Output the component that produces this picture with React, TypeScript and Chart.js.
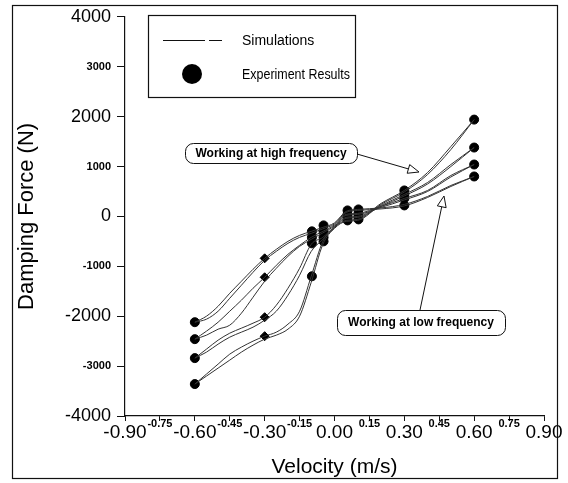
import React, { useEffect, useRef } from "react";
import { Chart, registerables } from "chart.js";

Chart.register(...registerables);

const FONT = '"Liberation Sans", Arial, Helvetica, sans-serif';

// Velocity grid of the simulation curves (m/s)
const simX = [-0.6, -0.55, -0.5, -0.45, -0.4, -0.35, -0.3, -0.25, -0.2, -0.15, -0.1, -0.05, 0, 0.05, 0.1, 0.2, 0.3, 0.4, 0.5, 0.6];
// Simulated damping force (N), two branches per working condition
const sim1a = [-2120, -2000, -1800, -1540, -1300, -1060, -840, -660, -500, -380, -300, -220, -130, 100, 140, 170, 240, 400, 620, 800];
const sim1b = [-2120, -2060, -1900, -1640, -1380, -1120, -880, -700, -540, -420, -340, -250, -150, 80, 120, 150, 210, 380, 600, 800];
const sim2a = [-2460, -2300, -2120, -1900, -1680, -1440, -1220, -980, -760, -580, -420, -300, -170, 40, 60, 200, 360, 520, 820, 1040];
const sim2b = [-2460, -2380, -2260, -2180, -1940, -1620, -1300, -1040, -800, -600, -460, -330, -190, 20, 40, 180, 330, 500, 790, 1040];
const sim3a = [-2840, -2660, -2480, -2340, -2240, -2140, -2020, -1780, -1440, -1040, -560, -420, -200, -20, 0, 220, 440, 680, 1040, 1380];
const sim3b = [-2840, -2720, -2560, -2420, -2320, -2220, -2080, -1900, -1580, -1180, -700, -460, -220, -40, -20, 200, 410, 650, 1000, 1380];
const sim4a = [-3360, -3160, -2960, -2760, -2620, -2500, -2400, -2320, -2160, -1900, -1200, -500, -220, -80, -60, 260, 520, 880, 1400, 1940];
const sim4b = [-3360, -3200, -3040, -2880, -2720, -2580, -2460, -2380, -2260, -2000, -1320, -560, -240, -100, -80, 240, 490, 840, 1340, 1940];

// Experiment results
const expX = [-0.6, -0.3, -0.097, -0.047, 0.056, 0.103, 0.3, 0.6];
const exp1 = [-2120, -840, -300, -180, 120, 140, 220, 800];
const exp2 = [-2460, -1220, -420, -300, 40, 60, 360, 1040];
const exp3 = [-2840, -2020, -540, -420, -20, 0, 440, 1380];
const exp4 = [-3360, -2400, -1200, -500, -80, -60, 520, 1940];

const legendLabels = ["Simulations", "Experiment Results"];
const noteHigh = "Working at high frequency";
const noteLow = "Working at low frequency";
const xTitle = "Velocity (m/s)";
const yTitle = "Damping Force (N)";

const toPts = (xs: number[], ys: number[]) => xs.map((x, i) => ({ x, y: ys[i] }));

function roundRect(ctx: CanvasRenderingContext2D, x: number, y: number, w: number, h: number, r: number) {
  ctx.beginPath();
  ctx.moveTo(x + r, y);
  ctx.lineTo(x + w - r, y);
  ctx.arcTo(x + w, y, x + w, y + r, r);
  ctx.lineTo(x + w, y + h - r);
  ctx.arcTo(x + w, y + h, x + w - r, y + h, r);
  ctx.lineTo(x + r, y + h);
  ctx.arcTo(x, y + h, x, y + h - r, r);
  ctx.lineTo(x, y + r);
  ctx.arcTo(x, y, x + r, y, r);
  ctx.closePath();
  ctx.stroke();
}

function arrow(ctx: CanvasRenderingContext2D, x1: number, y1: number, x2: number, y2: number) {
  const a = Math.atan2(y2 - y1, x2 - x1);
  const len = 11, half = 4.5;
  const bx = x2 - len * Math.cos(a), by = y2 - len * Math.sin(a);
  ctx.beginPath();
  ctx.moveTo(x1, y1);
  ctx.lineTo(bx, by);
  ctx.stroke();
  ctx.beginPath();
  ctx.moveTo(x2, y2);
  ctx.lineTo(bx + half * Math.sin(a), by - half * Math.cos(a));
  ctx.lineTo(bx - half * Math.sin(a), by + half * Math.cos(a));
  ctx.closePath();
  ctx.fillStyle = "#fff";
  ctx.fill();
  ctx.stroke();
}

const decorPlugin = {
  id: "decor",
  beforeDraw(chart: any) {
    const ctx = chart.ctx;
    ctx.save();
    ctx.fillStyle = "#fff";
    ctx.fillRect(0, 0, chart.width, chart.height);
    ctx.restore();
  },
  afterDraw(chart: any) {
    const ctx: CanvasRenderingContext2D = chart.ctx;
    ctx.save();
    ctx.strokeStyle = "#111";
    ctx.lineWidth = 1.2;
    // outer frame
    ctx.strokeRect(12.5, 5.5, 545, 473);
    // legend box
    ctx.strokeRect(148.5, 15.5, 207, 82);
    ctx.lineWidth = 1;
    ctx.beginPath();
    ctx.moveTo(163, 40.5);
    ctx.lineTo(205, 40.5);
    ctx.moveTo(209, 40.5);
    ctx.lineTo(222, 40.5);
    ctx.stroke();
    ctx.fillStyle = "#000";
    ctx.beginPath();
    ctx.arc(192, 74, 10, 0, Math.PI * 2);
    ctx.fill();
    ctx.font = `14px ${FONT}`;
    ctx.textBaseline = "middle";
    ctx.textAlign = "left";
    ctx.fillText(legendLabels[0], 242, 41);
    ctx.fillText(legendLabels[1], 242, 75, 108);
    // annotations
    ctx.lineWidth = 1;
    roundRect(ctx, 185.5, 143.5, 172, 20, 8);
    roundRect(ctx, 337.5, 310.5, 168, 25, 8);
    ctx.fillStyle = "#000";
    ctx.font = `bold 12px ${FONT}`;
    ctx.textAlign = "center";
    ctx.fillText(noteHigh, 271, 154, 160);
    ctx.fillText(noteLow, 421, 323, 156);
    arrow(ctx, 357, 154, 419, 172);
    arrow(ctx, 420, 310, 444, 196);
    ctx.restore();
  },
};

export default function App() {
  const ref = useRef<HTMLCanvasElement | null>(null);
  useEffect(() => {
    if (!ref.current) return;
    const simSets = [sim1a, sim1b, sim2a, sim2b, sim3a, sim3b, sim4a, sim4b].map((ys) => ({
      type: "line" as const,
      data: toPts(simX, ys),
      showLine: true,
      borderColor: "#333",
      borderWidth: 1,
      pointRadius: 0,
      cubicInterpolationMode: "monotone" as const,
      fill: false,
    }));
    const expSets = [exp1, exp2, exp3, exp4].map((ys) => ({
      type: "scatter" as const,
      data: toPts(expX, ys),
      showLine: false,
      backgroundColor: "#000",
      borderColor: "#000",
      pointRadius: 4.5,
      pointStyle: (c: any) => (c.raw && c.raw.x === -0.3 ? "rectRot" : "circle"),
    }));
    const chart = new Chart(ref.current, {
      type: "scatter",
      data: { datasets: [...simSets, ...expSets] as any },
      options: {
        animation: false,
        responsive: true,
        maintainAspectRatio: false,
        devicePixelRatio: 1,
        layout: { padding: { top: 15, right: 24, bottom: 0, left: 0 } },
        plugins: { legend: { display: false }, tooltip: { enabled: false } },
        scales: {
          x: {
            type: "linear",
            min: -0.9,
            max: 0.9,
            afterFit: (s: any) => { s.height = 67; },
            grid: { display: true, drawOnChartArea: false, drawTicks: true, tickLength: 5, color: "#111" },
            border: { display: true, color: "#111", width: 1.2 },
            ticks: {
              stepSize: 0.15,
              padding: 0,
              color: "#000",
              maxRotation: 0,
              autoSkip: false,
              callback: (v: any) => (Math.abs(v) < 1e-9 ? 0 : Number(v)).toFixed(2),
              font: (c: any) => {
                const v = c.tick ? c.tick.value : 0;
                const major = Math.round(v / 0.15) % 2 === 0;
                return major
                  ? { family: FONT, size: 19, lineHeight: 1.2 }
                  : { family: FONT, size: 11, weight: "bold", lineHeight: 0.45 };
              },
            },
            title: { display: true, text: xTitle, color: "#000", font: { family: FONT, size: 21 }, padding: { top: 0, bottom: 3 } },
          },
          y: {
            type: "linear",
            min: -4000,
            max: 4000,
            afterFit: (s: any) => { s.width = 125; },
            grid: { display: true, drawOnChartArea: false, drawTicks: true, tickLength: 8, color: "#111" },
            border: { display: true, color: "#111", width: 1.2 },
            ticks: {
              stepSize: 1000,
              padding: 6,
              color: "#000",
              callback: (v: any) => String(v),
              font: (c: any) => {
                const v = c.tick ? c.tick.value : 0;
                return v % 2000 === 0
                  ? { family: FONT, size: 18 }
                  : { family: FONT, size: 11, weight: "bold" };
              },
            },
            title: { display: true, text: yTitle, color: "#000", font: { family: FONT, size: 22 }, padding: { top: 14, bottom: 0 } },
          },
        },
      },
      plugins: [decorPlugin],
    });
    return () => chart.destroy();
  }, []);
  return (
    <div style={{ position: "absolute", left: 0, top: 0, width: 568, height: 483 }}>
      <canvas ref={ref} />
    </div>
  );
}
